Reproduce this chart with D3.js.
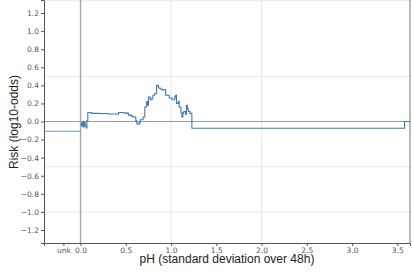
<!DOCTYPE html>
<html lang="en">
<head>
<meta charset="UTF-8">
<title>Risk vs pH</title>
<script src="https://d3js.org/d3.v7.min.js"></script>
<style>
  body { margin: 0; background: #fff; }
  .tick text { font-family: "DejaVu Sans", sans-serif; font-size: 7.5px; fill: #555; }
  .tick line { stroke: #555; }
  .axis-label { font-family: "Liberation Sans", Arial, sans-serif; font-size: 12px; fill: #222; }
</style>
</head>
<body>
<svg width="412" height="275"></svg>
<script>
// step curve: pH (std over 48h) -> risk (log10-odds)
var ph = [0.00, 0.01, 0.02, 0.03, 0.04, 0.05, 0.06, 0.07, 0.08, 0.12, 0.20, 0.30, 0.40, 0.42, 0.47,
          0.51, 0.53, 0.56, 0.58, 0.61, 0.62, 0.63, 0.65, 0.66, 0.69, 0.71, 0.73, 0.74, 0.75, 0.77,
          0.79, 0.80, 0.82, 0.84, 0.86, 0.88, 0.90, 0.94, 0.98, 1.01, 1.04, 1.05, 1.06, 1.08, 1.09,
          1.11, 1.12, 1.13, 1.14, 1.16, 1.17, 1.18, 1.19, 1.21, 1.23, 3.58];
var risk = [-0.02, -0.05, 0.00, -0.06, -0.01, -0.04, -0.07, 0.01, 0.10, 0.09, 0.088, 0.083, 0.08, 0.10, 0.095,
            0.09, 0.07, 0.06, 0.05, 0.01, -0.02, -0.03, -0.01, 0.02, 0.05, 0.16, 0.22, 0.18, 0.27, 0.24,
            0.26, 0.29, 0.31, 0.40, 0.37, 0.36, 0.35, 0.29, 0.26, 0.24, 0.27, 0.29, 0.20, 0.22, 0.16,
            0.10, 0.05, 0.09, 0.11, 0.08, 0.18, 0.14, 0.11, 0.09, -0.075, 0.00];
var phMax = 3.64;
var unkRisk = -0.11;   // value for missing pH
var xTicks = [-0.19, 0, 0.5, 1, 1.5, 2, 2.5, 3, 3.5];
var xTickLabels = ["unk", "0.0", "0.5", "1.0", "1.5", "2.0", "2.5", "3.0", "3.5"];
var yTicks = [-1.2, -1.0, -0.8, -0.6, -0.4, -0.2, 0, 0.2, 0.4, 0.6, 0.8, 1.0, 1.2];

var svg = d3.select("svg"),
    mLeft = 44, mRight = 410, mTop = 0, mBottom = 243;

var x = d3.scaleLinear().domain([-0.404, phMax]).range([mLeft, mRight]);
var y = d3.scaleLinear().domain([-1.344, 1.344]).range([mBottom, mTop]);

// faint grid
var grid = svg.append("g").attr("stroke", "#e8e8e8").attr("stroke-width", 1);
[1, 2].forEach(function (v) {
    grid.append("line").attr("x1", x(v)).attr("x2", x(v)).attr("y1", mTop).attr("y2", mBottom);
});
[1.335, 0.5, -0.5, -1.0].forEach(function (v) {
    grid.append("line").attr("x1", mLeft).attr("x2", mRight).attr("y1", y(v)).attr("y2", y(v));
});

// zero reference lines
svg.append("line").attr("x1", mLeft).attr("x2", mRight).attr("y1", y(0)).attr("y2", y(0))
    .attr("stroke", "#999").attr("stroke-width", 1.2);
svg.append("line").attr("x1", x(0)).attr("x2", x(0)).attr("y1", mTop).attr("y2", mBottom)
    .attr("stroke", "#aaa").attr("stroke-width", 1.5);

// unknown segment
svg.append("line").attr("x1", x(-0.404)).attr("x2", x(0)).attr("y1", y(unkRisk)).attr("y2", y(unkRisk))
    .attr("stroke", "#86acd3").attr("stroke-width", 1.2);

// step line
var pts = ph.map(function (d, i) { return [d, risk[i]]; });
pts.push([phMax, risk[risk.length - 1]]);
var line = d3.line()
    .x(function (d) { return x(d[0]); })
    .y(function (d) { return y(d[1]); })
    .curve(d3.curveStepAfter);
svg.append("path").datum(pts).attr("d", line)
    .attr("fill", "none").attr("stroke", "#3f7ab5").attr("stroke-width", 1.1);

// axes
svg.append("g").attr("transform", "translate(" + mLeft + ",0)")
    .call(d3.axisLeft(y).tickValues(yTicks).tickSize(3).tickPadding(2)
        .tickFormat(function (d) { return d3.format(".1f")(d); }))
    .call(function (g) { g.select(".domain").attr("stroke", "#555"); });

svg.append("g").attr("transform", "translate(0," + mBottom + ")")
    .call(d3.axisBottom(x).tickValues(xTicks).tickSize(3).tickPadding(2)
        .tickFormat(function (d, i) { return xTickLabels[i]; }))
    .call(function (g) { g.select(".domain").attr("stroke", "#555"); });

svg.append("line").attr("x1", mRight).attr("x2", mRight).attr("y1", mTop).attr("y2", mBottom)
    .attr("stroke", "#777").attr("stroke-width", 1);

// labels
svg.append("text").attr("class", "axis-label")
    .attr("transform", "translate(18,122) rotate(-90)")
    .attr("text-anchor", "middle").text("Risk (log10-odds)");
svg.append("text").attr("class", "axis-label")
    .attr("x", 227).attr("y", 263).attr("text-anchor", "middle")
    .text("pH (standard deviation over 48h)");
</script>
</body>
</html>
